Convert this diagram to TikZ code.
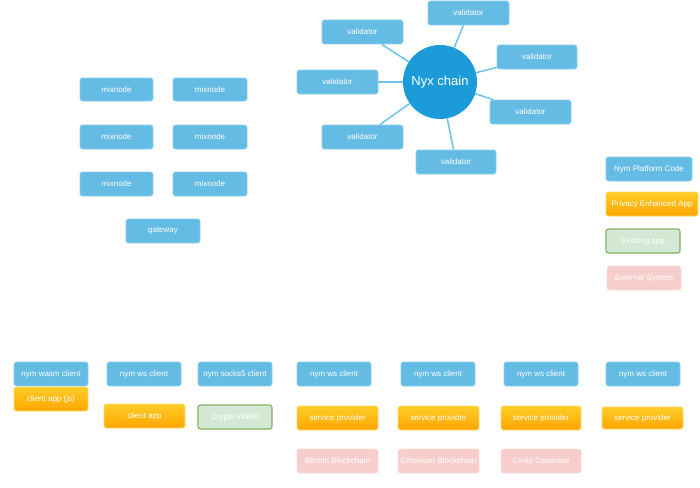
\documentclass[tikz,border=0pt]{standalone}
\usepackage{fontspec}
\setmainfont{Liberation Sans}
\definecolor{nymblue}{HTML}{64BBE3}
\definecolor{nymblueline}{HTML}{8ED0F0}
\definecolor{chainblue}{HTML}{1B9BD7}
\definecolor{orangetop}{HTML}{FFCD28}
\definecolor{orangebot}{HTML}{FFA500}
\definecolor{orangeline}{HTML}{FFD966}
\definecolor{greenfill}{HTML}{D5E8D4}
\definecolor{greenline}{HTML}{82B366}
\definecolor{pinkfill}{HTML}{F8CECC}
\definecolor{pinkline}{HTML}{FADDDB}
\definecolor{connector}{HTML}{6EC3EC}
\tikzset{
  base/.style={rectangle, rounded corners=2.5pt, text=white, font=\fontsize{8}{9}\selectfont, inner sep=0pt, line width=0.8pt},
  bluebox/.style={base, fill=nymblue, draw=nymblueline},
  orangebox/.style={base, top color=orangetop, bottom color=orangebot, draw=orangeline},
  greenbox/.style={base, fill=greenfill, draw=greenline, line width=1.2pt},
  pinkbox/.style={base, fill=pinkfill, draw=pinkline},
  chain/.style={circle, fill=chainblue, text=white, font=\fontsize{13}{15}\selectfont, minimum size=74pt, inner sep=0pt},
  conn/.style={draw=connector, line width=1.5pt},
}
\newcommand{\bx}[7]{% style, name, x1, y1, x2, y2, text
  \node[#1, minimum width={#5-#3}, minimum height={#6-#4}] (#2) at ({(#3+#5)/2},{(#4+#6)/2}) {#7};}
\begin{document}
\begin{tikzpicture}[x=1pt,y=-1pt]
\useasboundingbox (0,0) rectangle (700,487);
% mixnodes
\bx{bluebox}{m1}{80}{78}{153}{101}{mixnode}
\bx{bluebox}{m2}{173}{78}{247}{101}{mixnode}
\bx{bluebox}{m3}{80}{125}{153}{149}{mixnode}
\bx{bluebox}{m4}{173}{125}{247}{149}{mixnode}
\bx{bluebox}{m5}{80}{172}{153}{196}{mixnode}
\bx{bluebox}{m6}{173}{172}{247}{196}{mixnode}
\bx{bluebox}{gw}{126}{219}{200}{243}{gateway}
% chain
\node[chain] (nyx) at (440,82) {Nyx chain};
\bx{bluebox}{v1}{322}{20}{403}{44}{validator}
\bx{bluebox}{v2}{428}{1}{509}{25}{validator}
\bx{bluebox}{v3}{497}{45}{577}{69}{validator}
\bx{bluebox}{v4}{297}{70}{378}{94}{validator}
\bx{bluebox}{v5}{490}{100}{571}{124}{validator}
\bx{bluebox}{v6}{322}{125}{403}{149}{validator}
\bx{bluebox}{v7}{416}{150}{496}{174}{validator}
\foreach \v in {v1,v2,v3,v4,v5,v6,v7} \draw[conn] (\v) -- (nyx);
% legend
\bx{bluebox}{l1}{606}{157}{692}{181}{Nym Platform Code}
\bx{orangebox}{l2}{606}{192}{698}{216}{Privacy Enhanced App}
\bx{greenbox}{l3}{606}{229}{680}{253}{Existing app}
\bx{pinkbox}{l4}{607}{266}{681}{290}{External System}
% bottom row
\bx{bluebox}{c1}{14}{362}{88}{386}{nym wasm client}
\bx{orangebox}{a1}{14}{387}{88}{411}{client app (js)}
\bx{bluebox}{c2}{107}{362}{181}{386}{nym ws client}
\bx{orangebox}{a2}{104}{404}{185}{428}{client app}
\bx{bluebox}{c3}{198}{362}{272}{386}{nym socks5 client}
\bx{greenbox}{a3}{198}{405}{272}{429}{Crypto Wallet}
\bx{bluebox}{c4}{297}{362}{371}{386}{nym ws client}
\bx{orangebox}{s4}{297}{406}{378}{430}{service provider}
\bx{pinkbox}{e4}{297}{449}{378}{473}{Bitcoin Blockchain}
\bx{bluebox}{c5}{401}{362}{475}{386}{nym ws client}
\bx{orangebox}{s5}{398}{406}{479}{430}{service provider}
\bx{pinkbox}{e5}{398}{449}{479}{473}{Ethereum Blockchain}
\bx{bluebox}{c6}{504}{362}{578}{386}{nym ws client}
\bx{orangebox}{s6}{501}{406}{581}{430}{service provider}
\bx{pinkbox}{e6}{501}{449}{581}{473}{Covid Database}
\bx{bluebox}{c7}{606}{362}{680}{386}{nym ws client}
\bx{orangebox}{s7}{602}{407}{683}{429}{service provider}
\end{tikzpicture}
\end{document}
